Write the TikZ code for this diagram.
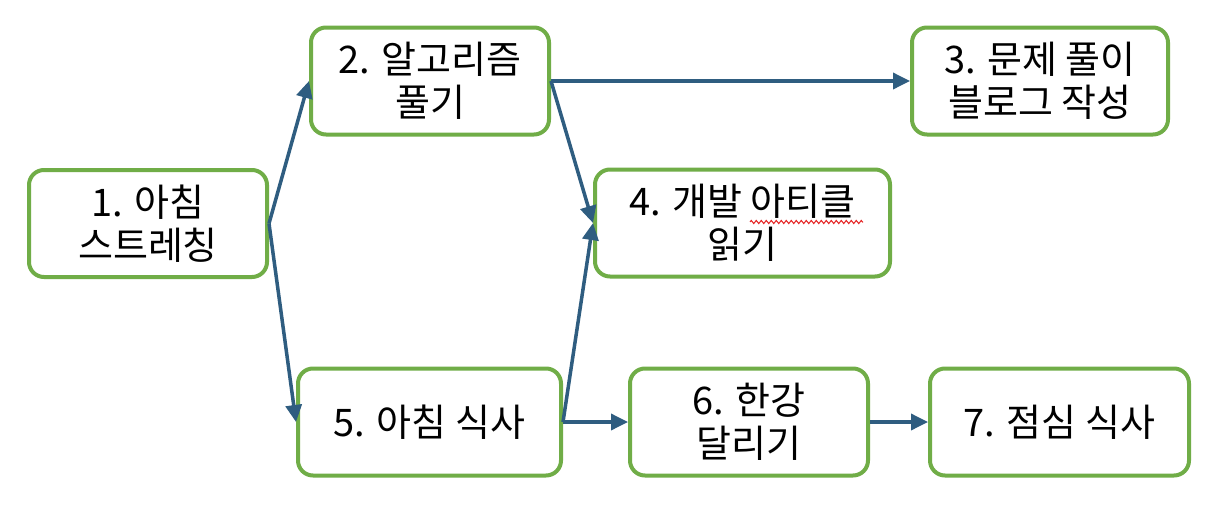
\documentclass[tikz,border=0pt]{standalone}
\usepackage{fontspec}
\setmainfont{Noto Sans CJK KR}
\usetikzlibrary{arrows.meta,decorations.pathmorphing}
\definecolor{boxgreen}{RGB}{112,173,71}
\definecolor{arrblue}{RGB}{47,93,128}
\definecolor{squig}{RGB}{230,40,40}
\tikzset{
  stepbox/.style={draw=boxgreen, line width=4pt, rounded corners=15pt, fill=white,
    align=center, inner sep=0pt, minimum height=107pt,
    font=\fontsize{38}{43}\selectfont, text=black},
  arr/.style={draw=arrblue, line width=3.5pt, -{Triangle[length=17pt,width=16pt]}},
}
\begin{document}
\begin{tikzpicture}[x=1pt,y=-1pt]
\useasboundingbox[fill=white] (0,0) rectangle (1224,506);
\node[stepbox, minimum width=238pt] (n1) at (148,223.5) {1. 아침\\스트레칭};
\node[stepbox, minimum width=238pt] (n2) at (430,81) {2. 알고리즘\\풀기};
\node[stepbox, minimum width=256pt] (n3) at (1040,81) {3. 문제 풀이\\블로그 작성};
\node[stepbox, minimum width=295pt] (n4) at (742.5,223) {4. 개발 아티클\\읽기};
\node[stepbox, minimum width=263pt] (n5) at (429.5,422) {5. 아침 식사};
\node[stepbox, minimum width=238pt] (n6) at (749,422) {6. 한강\\달리기};
\node[stepbox, minimum width=259pt] (n7) at (1059.5,422) {7. 점심 식사};
\coordinate (sq1) at (750,222);
\coordinate (sq2) at (863,222);
\draw[squig, line width=1pt, decorate, decoration={zigzag, amplitude=1.6pt, segment length=5pt}] (sq1) -- (sq2);
\draw[arr] (n1.east) -- (n2.west);
\draw[arr] (n1.east) -- (n5.west);
\draw[arr] (n2.east) -- (n3.west);
\draw[arr] (n2.east) -- (n4.west);
\draw[arr] (n5.east) -- (n4.west);
\draw[arr] (n5.east) -- (n6.west);
\draw[arr] (n6.east) -- (n7.west);
\end{tikzpicture}
\end{document}
